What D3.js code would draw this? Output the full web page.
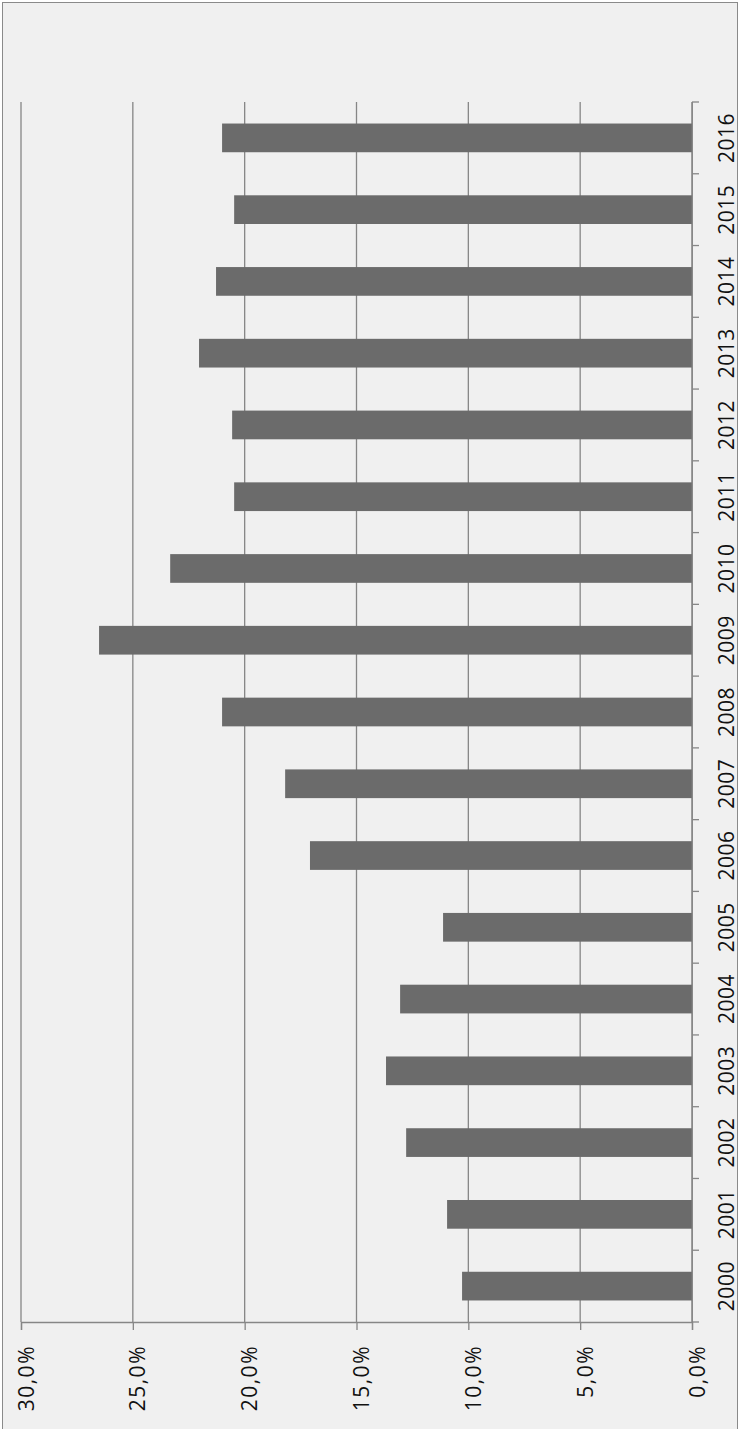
<!DOCTYPE html>
<html>
<head>
<meta charset="utf-8">
<script src="https://cdn.jsdelivr.net/npm/d3@7"></script>
<style>
  body { margin: 0; background: #ffffff; }
  svg text { font-family: "Open Sans", sans-serif; fill: #111; }
</style>
</head>
<body>
<svg></svg>
<script>
const years = ["2000","2001","2002","2003","2004","2005","2006","2007","2008",
               "2009","2010","2011","2012","2013","2014","2015","2016"]
const shares = [10.28,10.95,12.78,13.68,13.05,11.13,17.08,18.19,21.01,
                26.51,23.33,20.47,20.56,22.04,21.28,20.47,21.01]
const tickValues = [0,5,10,15,20,25,30]
const tickLabels = ["0,0%","5,0%","10,0%","15,0%","20,0%","25,0%","30,0%"]

const data = years.map((y,i)=>{return {year:y, value:shares[i]}})

const svg = d3.select("svg")
    .attr("width",740)
    .attr("height",1429)

svg.append("rect")
    .attr("x",2.5)
    .attr("y",2.5)
    .attr("width",735)
    .attr("height",1440)
    .style("fill","#f0f0f0")
    .style("stroke","#8a8a8a")
    .style("stroke-width",1)

// value axis runs right-to-left (chart is rotated)
const xScale = d3.scaleLinear()
    .domain([0,30])
    .range([692,21])

const yScale = d3.scaleBand()
    .domain(years.slice().reverse())
    .range([102,1322])
    .paddingInner(0.6)
    .paddingOuter(0.3)

// gridlines
svg.append("g")
    .selectAll("line.grid")
    .data(tickValues)
    .enter()
    .append("line")
    .attr("class","grid")
    .attr("x1",d=>xScale(d))
    .attr("x2",d=>xScale(d))
    .attr("y1",102)
    .attr("y2",1322)
    .style("stroke","#868686")
    .style("stroke-width",1.3)

// bars
svg.append("g")
    .selectAll("rect.bar")
    .data(data)
    .enter()
    .append("rect")
    .attr("class","bar")
    .attr("x",d=>xScale(d.value))
    .attr("y",d=>yScale(d.year))
    .attr("width",d=>xScale(0)-xScale(d.value))
    .attr("height",yScale.bandwidth())
    .style("fill","#6b6b6b")

// value axis (bottom)
const xAxis = svg.append("g")
    .attr("transform","translate(0,1322)")
    .call(d3.axisBottom(xScale)
        .tickValues(tickValues)
        .tickSize(8)
        .tickFormat((d,i)=>tickLabels[i]))

xAxis.select(".domain").style("stroke","#868686").style("stroke-width",1.3)
xAxis.selectAll(".tick line").style("stroke","#868686").style("stroke-width",1.3)
xAxis.selectAll(".tick text")
    .attr("x",0)
    .attr("y",0)
    .attr("dy",0)
    .attr("transform","translate(12,23) rotate(-90)")
    .attr("text-anchor","end")
    .style("font-size","21px")
    .style("letter-spacing","1.5px")
    .style("fill","#111")

// category axis (right side, ticks at band boundaries)
const step = yScale.step()
const bounds = d3.range(years.length+1).map(i=>102 + i*step)

svg.append("line")
    .attr("x1",692.3)
    .attr("x2",692.3)
    .attr("y1",102)
    .attr("y2",1322)
    .style("stroke","#868686")
    .style("stroke-width",1.3)

svg.append("g")
    .selectAll("line.ctick")
    .data(bounds)
    .enter()
    .append("line")
    .attr("class","ctick")
    .attr("x1",692)
    .attr("x2",699)
    .attr("y1",d=>d)
    .attr("y2",d=>d)
    .style("stroke","#868686")
    .style("stroke-width",1.3)

svg.append("g")
    .selectAll("text.year")
    .data(years)
    .enter()
    .append("text")
    .attr("class","year")
    .attr("text-anchor","middle")
    .attr("transform",d=>`translate(733.5,${yScale(d)+yScale.bandwidth()/2}) rotate(-90)`)
    .style("font-size","21px")
    .style("letter-spacing","0.5px")
    .text(d=>d)
</script>
</body>
</html>
